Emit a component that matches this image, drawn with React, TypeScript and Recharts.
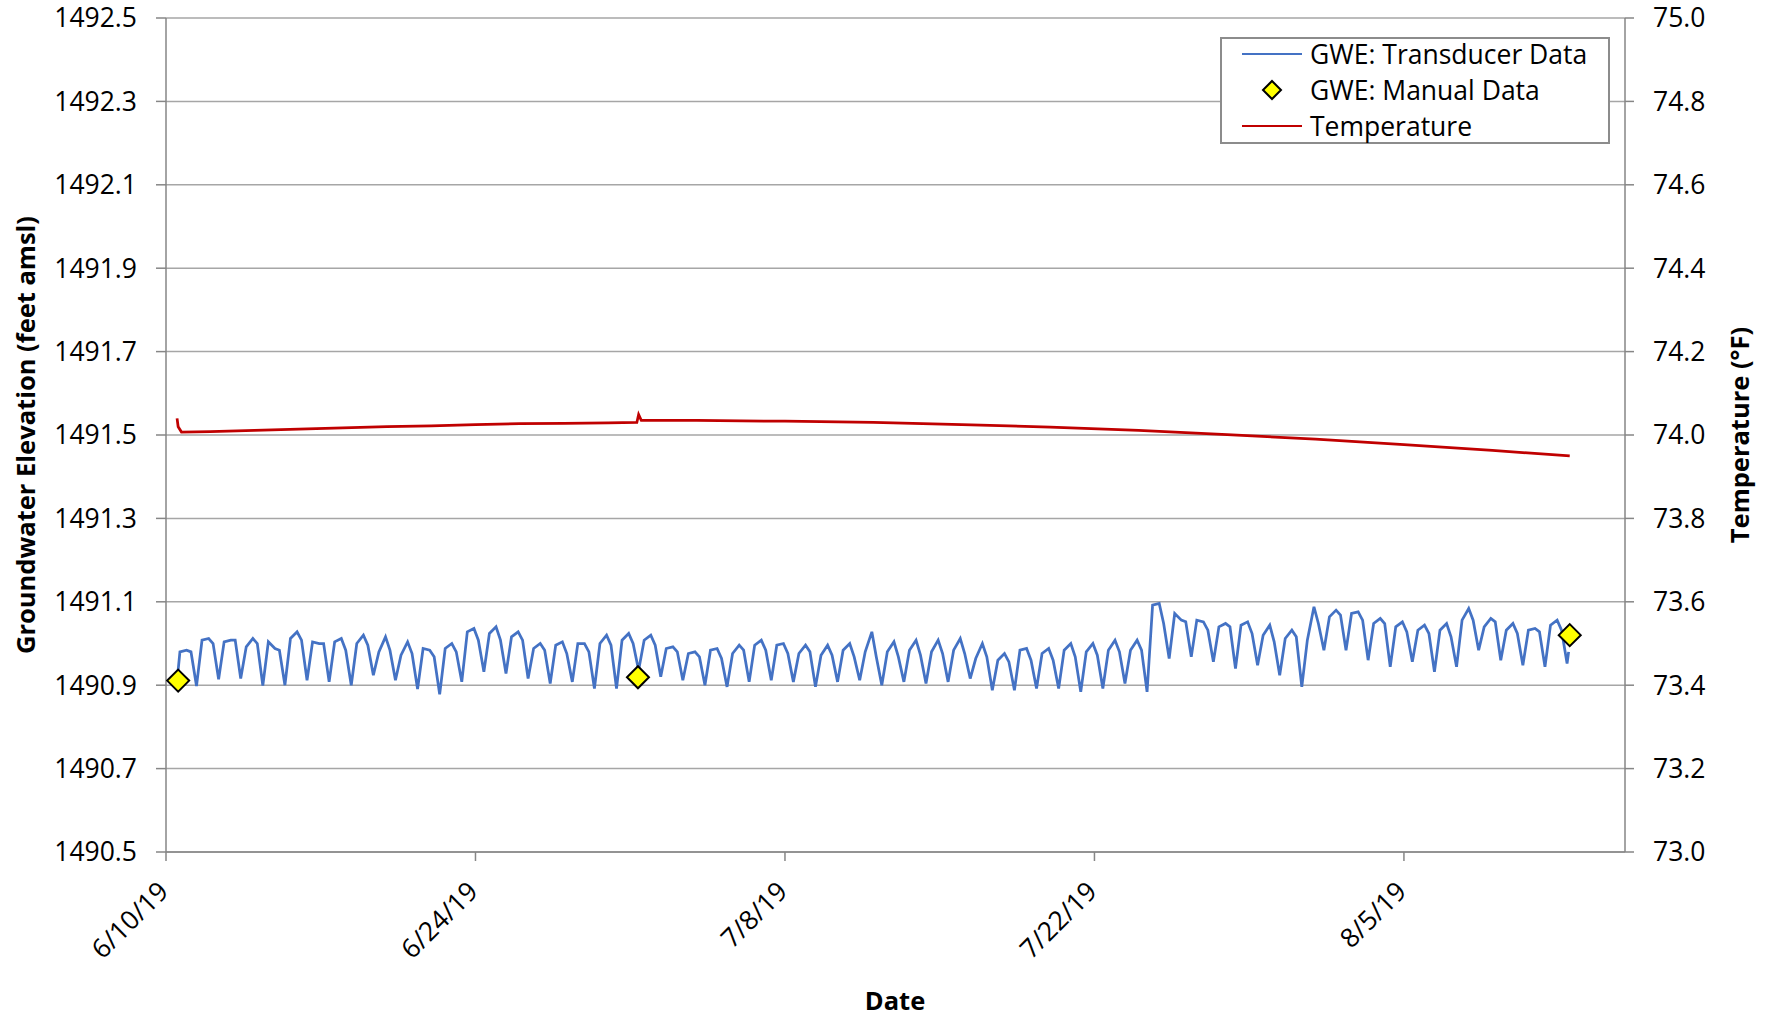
import React from "react";
import {
  ComposedChart,
  Line,
  Scatter,
  XAxis,
  YAxis,
  CartesianGrid,
  Legend,
  Label,
} from "recharts";

// x values are days after 6/10/19
const xTickDays = [0, 14, 28, 42, 56];
const xTickLabels = ["6/10/19", "6/24/19", "7/8/19", "7/22/19", "8/5/19"];
const gweTicks = [1490.5, 1490.7, 1490.9, 1491.1, 1491.3, 1491.5, 1491.7, 1491.9, 1492.1, 1492.3, 1492.5];
const tempTicks = [73.0, 73.2, 73.4, 73.6, 73.8, 74.0, 74.2, 74.4, 74.6, 74.8, 75.0];

// transducer record, one daily cycle each: rise, peak, shoulder, then the morning trough
const transducerStart = { day: 0.5, gwe: 1490.91 };
const transducerEnd = { day: 63.45, gwe: 1490.98 };
const riseValues = [
  1490.98, 1491.008, 1491.004, 1490.992, 1491.004, 1491.012, 1491.004, 1491.004, 1491.0, 1490.98,
  1490.972, 1490.988, 1490.988, 1491.028, 1491.024, 1491.016, 1490.988, 1490.996, 1491.0, 1491.0,
  1491.008, 1491.008, 1490.988, 1490.976, 1490.984, 1490.976, 1490.996, 1490.996, 1490.976, 1490.972,
  1490.984, 1490.98, 1490.98, 1490.984, 1490.98, 1490.984, 1490.964, 1490.96, 1490.984, 1490.976,
  1490.984, 1490.98, 1490.984, 1490.984, 1491.092, 1491.072, 1491.056, 1491.04, 1491.044, 1491.02,
  1491.012, 1491.008, 1491.064, 1491.072, 1491.048, 1491.04, 1491.032, 1491.032, 1491.056, 1491.04,
  1491.032, 1491.032, 1491.044,
];
const peakValues = [
  1490.984, 1491.012, 1491.008, 1491.012, 1490.988, 1491.028, 1491.0, 1491.012, 1491.02, 1491.016,
  1491.004, 1490.984, 1491.0, 1491.036, 1491.04, 1491.028, 1491.0, 1491.004, 1491.0, 1491.02,
  1491.024, 1491.02, 1490.992, 1490.98, 1490.988, 1490.996, 1491.008, 1491.0, 1490.996, 1490.996,
  1491.0, 1491.028, 1491.004, 1491.008, 1491.008, 1491.012, 1491.0, 1490.976, 1490.988, 1490.988,
  1491.0, 1491.0, 1491.008, 1491.008, 1491.096, 1491.056, 1491.052, 1491.048, 1491.052, 1491.044,
  1491.032, 1491.088, 1491.08, 1491.076, 1491.06, 1491.052, 1491.044, 1491.048, 1491.084, 1491.06,
  1491.048, 1491.036, 1491.056,
];
const shoulderValues = [
  1490.98, 1491.0, 1491.008, 1491.0, 1490.984, 1491.008, 1491.0, 1490.984, 1490.996, 1490.984,
  1490.976, 1490.968, 1490.98, 1491.008, 1491.008, 1491.008, 1490.984, 1490.976, 1490.98, 1490.996,
  1491.0, 1490.996, 1490.98, 1490.968, 1490.964, 1490.984, 1490.984, 1490.976, 1490.98, 1490.972,
  1490.968, 1490.968, 1490.968, 1490.972, 1490.976, 1490.976, 1490.968, 1490.956, 1490.96, 1490.96,
  1490.968, 1490.972, 1490.98, 1490.984, 1491.048, 1491.052, 1491.032, 1491.04, 1491.024, 1491.004,
  1491.016, 1491.048, 1491.068, 1491.056, 1491.048, 1491.028, 1491.024, 1491.016, 1491.056, 1491.052,
  1491.024, 1491.028, 1491.032,
];
const troughValues = [
  1490.898, 1490.914, 1490.916, 1490.899, 1490.9, 1490.912, 1490.908, 1490.9, 1490.924, 1490.912,
  1490.891, 1490.878, 1490.908, 1490.932, 1490.928, 1490.916, 1490.904, 1490.908, 1490.892, 1490.892,
  1490.936, 1490.92, 1490.912, 1490.9, 1490.896, 1490.908, 1490.912, 1490.908, 1490.896, 1490.908,
  1490.912, 1490.9, 1490.908, 1490.904, 1490.908, 1490.916, 1490.888, 1490.888, 1490.892, 1490.892,
  1490.884, 1490.892, 1490.904, 1490.884, 1490.964, 1490.968, 1490.956, 1490.94, 1490.948, 1490.924,
  1490.896, 1490.984, 1490.984, 1490.96, 1490.944, 1490.956, 1490.932, 1490.944, 1490.984, 1490.96,
  1490.948, 1490.944, 1490.952,
];

const temperatureDays = [
  0.5, 0.55, 0.7, 2, 4, 6, 8, 10, 12, 14, 16, 18, 20, 21.3, 21.38, 21.5, 24, 28, 32, 36, 40, 44, 48, 52,
  56, 60, 63.5,
];
const temperatureValues = [
  74.04, 74.02, 74.007, 74.008, 74.011, 74.014, 74.017, 74.02, 74.022, 74.025, 74.027, 74.028, 74.029,
  74.03, 74.049, 74.035, 74.035, 74.033, 74.03, 74.025, 74.019, 74.011, 74.001, 73.99, 73.977, 73.963,
  73.95,
];

const manualDays = [0.55, 21.35, 63.5];
const manualValues = [1490.911, 1490.919, 1491.02];

const transducerData: { day: number; gwe: number }[] = [transducerStart];
troughValues.forEach((trough, i) => {
  const base = i + 0.38;
  transducerData.push(
    { day: base + 0.25, gwe: riseValues[i] },
    { day: base + 0.55, gwe: peakValues[i] },
    { day: base + 0.75, gwe: shoulderValues[i] },
    { day: base + 1, gwe: trough }
  );
});
transducerData.push(transducerEnd);

const temperatureData = temperatureDays.map((day, i) => ({ day, temp: temperatureValues[i] }));
const manualData = manualDays.map((day, i) => ({ day, gwe: manualValues[i] }));

const BLUE = "#4472C4";
const RED = "#C00000";
const AXIS = "#868686";
const FONT = 26.5;
const TITLE = 25.5;

const DateTick = (props: any) => {
  const { x, y, payload } = props;
  const ax = x + 4;
  const ay = y + 30;
  const label = xTickLabels[xTickDays.indexOf(payload.value)];
  return (
    <text x={ax} y={ay} transform={`rotate(-45 ${ax} ${ay})`} textAnchor="end" fontSize={FONT} fill="#000">
      {label}
    </text>
  );
};

const Diamond = (props: any) => {
  const { cx, cy } = props;
  const r = 11;
  return (
    <path
      d={`M${cx},${cy - r} L${cx + r},${cy} L${cx},${cy + r} L${cx - r},${cy} Z`}
      fill="#FFFF00"
      stroke="#000"
      strokeWidth={2}
    />
  );
};

const renderLegend = () => {
  const row = { height: 36, display: "flex", alignItems: "center", whiteSpace: "nowrap" } as const;
  return (
    <div
      style={{
        width: 390,
        height: 107,
        boxSizing: "border-box",
        border: "2px solid #8c8c8c",
        background: "#fff",
        fontSize: FONT,
        color: "#000",
        lineHeight: "36px",
      }}
    >
      <div style={{ marginTop: -3 }}>
        <div style={row}>
          <svg width={88} height={36}>
            <line x1={20} x2={80} y1={18} y2={18} stroke={BLUE} strokeWidth={2} />
          </svg>
          <span>GWE: Transducer Data</span>
        </div>
        <div style={row}>
          <svg width={88} height={36}>
            <path d="M50,9 L59,18 L50,27 L41,18 Z" fill="#FFFF00" stroke="#000" strokeWidth={2} />
          </svg>
          <span>GWE: Manual Data</span>
        </div>
        <div style={row}>
          <svg width={88} height={36}>
            <line x1={20} x2={80} y1={18} y2={18} stroke={RED} strokeWidth={2} />
          </svg>
          <span>Temperature</span>
        </div>
      </div>
    </div>
  );
};

const App = () => {
  return (
    <div
      style={{
        position: "absolute",
        left: 0,
        top: 0,
        width: 1769,
        height: 1016,
        background: "#fff",
        fontFamily: "'Open Sans', sans-serif",
      }}
    >
      <ComposedChart width={1769} height={1016} margin={{ top: 18, right: 0, bottom: 0, left: 0 }}>
        <CartesianGrid yAxisId="left" vertical={false} stroke="#a6a6a6" strokeWidth={1.5} />
        <XAxis
          dataKey="day"
          type="number"
          domain={[0, 66]}
          ticks={xTickDays}
          allowDataOverflow
          height={164}
          tickSize={9}
          tickMargin={2}
          tick={<DateTick />}
          axisLine={{ stroke: AXIS, strokeWidth: 1.5 }}
          tickLine={{ stroke: AXIS, strokeWidth: 1.5 }}
        >
          <Label
            content={() => (
              <text x={895} y={1010} textAnchor="middle" fontSize={TITLE} fontWeight="bold" fill="#000">
                Date
              </text>
            )}
          />
        </XAxis>
        <YAxis
          yAxisId="left"
          domain={[1490.5, 1492.5]}
          ticks={gweTicks}
          allowDataOverflow
          width={166}
          tickSize={10}
          tickMargin={19}
          tickFormatter={(v: number) => v.toFixed(1)}
          tick={{ fontSize: FONT, fill: "#000" }}
          axisLine={{ stroke: AXIS, strokeWidth: 1.5 }}
          tickLine={{ stroke: AXIS, strokeWidth: 1.5 }}
        >
          <Label
            content={() => (
              <text
                x={25}
                y={435}
                transform="rotate(-90 25 435)"
                textAnchor="middle"
                dominantBaseline="central"
                fontSize={TITLE}
                fontWeight="bold"
                fill="#000"
              >
                Groundwater Elevation (feet amsl)
              </text>
            )}
          />
        </YAxis>
        <YAxis
          yAxisId="right"
          orientation="right"
          domain={[73, 75]}
          ticks={tempTicks}
          allowDataOverflow
          width={144}
          tickSize={9}
          tickMargin={19}
          tickFormatter={(v: number) => v.toFixed(1)}
          tick={{ fontSize: FONT, fill: "#000" }}
          axisLine={{ stroke: AXIS, strokeWidth: 1.5 }}
          tickLine={{ stroke: AXIS, strokeWidth: 1.5 }}
        >
          <Label
            content={() => (
              <text
                x={1739}
                y={435}
                transform="rotate(-90 1739 435)"
                textAnchor="middle"
                dominantBaseline="central"
                fontSize={TITLE}
                fontWeight="bold"
                fill="#000"
              >
                Temperature (°F)
              </text>
            )}
          />
        </YAxis>
        <Line
          data={transducerData}
          dataKey="gwe"
          yAxisId="left"
          type="linear"
          stroke={BLUE}
          strokeWidth={2.75}
          dot={false}
          activeDot={false}
          isAnimationActive={false}
        />
        <Line
          data={temperatureData}
          dataKey="temp"
          yAxisId="right"
          type="linear"
          stroke={RED}
          strokeWidth={2.75}
          dot={false}
          activeDot={false}
          isAnimationActive={false}
        />
        <Scatter
          data={manualData}
          dataKey="gwe"
          yAxisId="left"
          shape={<Diamond />}
          isAnimationActive={false}
        />
        <Legend
          layout="horizontal"
          verticalAlign="middle"
          align="center"
          content={renderLegend}
          wrapperStyle={{ position: "absolute", left: 1220, top: 37, width: 390, height: 107 }}
        />
      </ComposedChart>
    </div>
  );
};

export default App;
